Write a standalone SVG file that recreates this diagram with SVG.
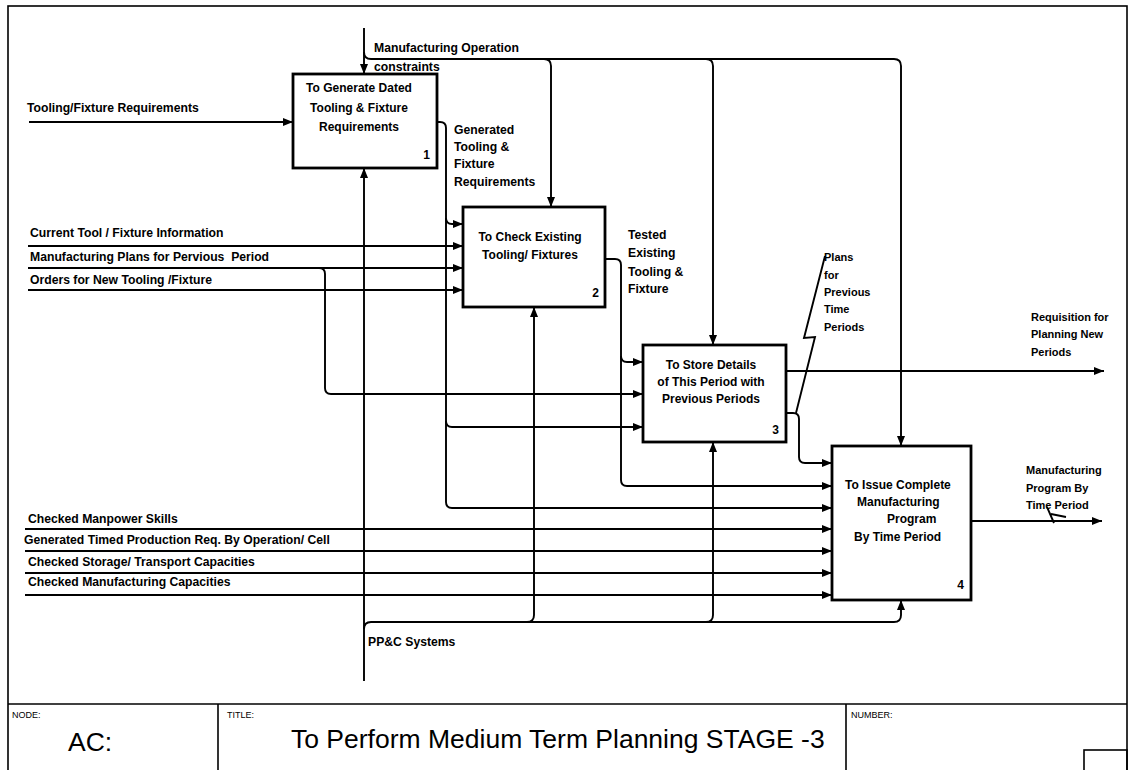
<svg xmlns="http://www.w3.org/2000/svg" width="1133" height="770" viewBox="0 0 1133 770">
  <defs>
    <marker id="ah" viewBox="0 0 10 8" refX="10" refY="4" markerWidth="10" markerHeight="8" markerUnits="userSpaceOnUse" orient="auto">
      <path d="M0,0 L10,4 L0,8 z" fill="#000"/>
    </marker>
    <style>
      .frame { fill: none; stroke: #000; stroke-width: 1.6; }
      .box { fill: #fff; stroke: #000; stroke-width: 2.8; }
      .line { fill: none; stroke: #000; stroke-width: 1.9; }
      .arr { marker-end: url(#ah); }
      .lbl { font-family: "Liberation Sans", Arial, sans-serif; font-weight: bold; font-size: 12.2px; fill: #000; }
      .sm { font-family: "Liberation Sans", Arial, sans-serif; font-weight: bold; font-size: 11px; fill: #000; }
      .bt { font-family: "Liberation Sans", Arial, sans-serif; font-weight: bold; font-size: 12px; fill: #000; }
      .num { font-family: "Liberation Sans", Arial, sans-serif; font-weight: bold; font-size: 12px; fill: #000; text-anchor: end; }
      .tb { font-family: "Liberation Sans", Arial, sans-serif; font-size: 9px; fill: #000; }
      .big { font-family: "Liberation Sans", Arial, sans-serif; font-size: 26.5px; fill: #000; }
    </style>
  </defs>

  <rect width="1133" height="770" fill="#fff"/>

  <!-- drawing frame and title block -->
  <g id="frame">
    <rect class="frame" x="8" y="6" width="1119" height="780"/>
    <line class="frame" x1="8" y1="704" x2="1127" y2="704"/>
    <line class="frame" x1="218" y1="704" x2="218" y2="770"/>
    <line class="frame" x1="846" y1="704" x2="846" y2="770"/>
    <rect class="frame" x="1084" y="750" width="43" height="30"/>
    <text class="tb" x="12" y="718">NODE:</text>
    <text class="big" x="68" y="751" font-size="29">AC:</text>
    <text class="tb" x="227" y="718">TITLE:</text>
    <text class="big" x="291" y="748">To Perform Medium Term Planning STAGE -3</text>
    <text class="tb" x="851" y="718">NUMBER:</text>
  </g>

  <!-- connectors -->
  <g id="connectors">
    <!-- control: Manufacturing Operation constraints -->
    <path class="line arr" d="M364,28 L364,74"/>
    <path class="line arr" d="M364,52 Q364,59 371,59 L894,59 Q901,59 901,66 L901,446"/>
    <path class="line arr" d="M544,59 Q551,59 551,66 L551,207"/>
    <path class="line arr" d="M706,59 Q713,59 713,66 L713,345"/>

    <!-- input to box 1 -->
    <path class="line arr" d="M29,122 L293,122"/>

    <!-- box 1 output: Generated Tooling & Fixture Requirements -->
    <path class="line arr" d="M437,122 L440,122 Q446,122 446,128 L446,502 Q446,508 452,508 L832,508"/>
    <path class="line arr" d="M446,218 Q446,224 452,224 L463,224"/>
    <path class="line arr" d="M446,421 Q446,427 452,427 L643,427"/>

    <!-- inputs to box 2 -->
    <path class="line arr" d="M28,246 L463,246"/>
    <path class="line arr" d="M28,268 L463,268"/>
    <path class="line arr" d="M28,290 L463,290"/>
    <path class="line arr" d="M319,268 Q325,268 325,274 L325,388 Q325,394 331,394 L643,394"/>

    <!-- box 2 output: Tested Existing Tooling & Fixture -->
    <path class="line arr" d="M605,259 L615,259 Q621,259 621,265 L621,480 Q621,486 627,486 L832,486"/>
    <path class="line arr" d="M621,356 Q621,362 627,362 L643,362"/>

    <!-- box 3 outputs -->
    <path class="line arr" d="M786,371 L1104,371"/>
    <path class="line arr" d="M786,413 L793,413 Q799,413 799,419 L799,457 Q799,463 805,463 L832,463"/>
    <path class="line" d="M796,413 L815,337 L804,338 L825,256"/>

    <!-- inputs to box 4 -->
    <path class="line arr" d="M25,529 L832,529"/>
    <path class="line arr" d="M25,551 L832,551"/>
    <path class="line arr" d="M25,573 L832,573"/>
    <path class="line arr" d="M25,595 L832,595"/>

    <!-- box 4 output: Manufacturing Program By Time Period -->
    <path class="line arr" d="M971,521 L1102,521"/>
    <path class="line" d="M1047,507 L1054,523 M1051,514 L1066,517"/>

    <!-- mechanism: PP&C Systems -->
    <path class="line arr" d="M364,681 L364,168"/>
    <path class="line arr" d="M364,629 Q364,622 371,622 L894,622 Q901,622 901,615 L901,600"/>
    <path class="line arr" d="M527,622 Q534,622 534,615 L534,307"/>
    <path class="line arr" d="M706,622 Q713,622 713,615 L713,442"/>
  </g>

  <!-- arrow labels -->
  <g id="labels">
    <text class="lbl" x="374" y="52">Manufacturing Operation</text>
    <text class="lbl" x="374" y="71">constraints</text>
    <text class="lbl" x="27" y="112">Tooling/Fixture Requirements</text>
    <text class="lbl" x="454" y="134">Generated</text>
    <text class="lbl" x="454" y="151">Tooling &amp;</text>
    <text class="lbl" x="454" y="168">Fixture</text>
    <text class="lbl" x="454" y="186">Requirements</text>
    <text class="lbl" x="30" y="237">Current Tool / Fixture Information</text>
    <text class="lbl" x="30" y="261" xml:space="preserve">Manufacturing Plans for Pervious  Period</text>
    <text class="lbl" x="30" y="284">Orders for New Tooling /Fixture</text>
    <text class="lbl" x="628" y="239">Tested</text>
    <text class="lbl" x="628" y="257">Existing</text>
    <text class="lbl" x="628" y="276">Tooling &amp;</text>
    <text class="lbl" x="628" y="293">Fixture</text>
    <text class="sm" x="824" y="261" font-size="11.5">Plans</text>
    <text class="sm" x="824" y="279" font-size="11.5">for</text>
    <text class="sm" x="824" y="296" font-size="11.5">Previous</text>
    <text class="sm" x="824" y="313" font-size="11.5">Time</text>
    <text class="sm" x="824" y="331" font-size="11.5">Periods</text>
    <text class="sm" x="1031" y="321">Requisition for</text>
    <text class="sm" x="1031" y="338">Planning New</text>
    <text class="sm" x="1031" y="356">Periods</text>
    <text class="sm" x="1026" y="474">Manufacturing</text>
    <text class="sm" x="1026" y="492">Program By</text>
    <text class="sm" x="1026" y="509">Time Period</text>
    <text class="lbl" x="28" y="523">Checked Manpower Skills</text>
    <text class="lbl" x="24" y="544">Generated Timed Production Req. By Operation/ Cell</text>
    <text class="lbl" x="28" y="566">Checked Storage/ Transport Capacities</text>
    <text class="lbl" x="28" y="586">Checked Manufacturing Capacities</text>
    <text class="lbl" x="368" y="646">PP&amp;C Systems</text>
  </g>

  <!-- activity boxes -->
  <g id="box1">
    <rect class="box" x="293" y="74" width="144" height="94"/>
    <text class="bt" x="359" y="92" text-anchor="middle">To Generate Dated</text>
    <text class="bt" x="359" y="112" text-anchor="middle">Tooling &amp; Fixture</text>
    <text class="bt" x="359" y="131" text-anchor="middle">Requirements</text>
    <text class="num" x="430" y="159">1</text>
  </g>

  <g id="box2">
    <rect class="box" x="463" y="207" width="142" height="100"/>
    <text class="bt" x="530" y="241" text-anchor="middle">To Check Existing</text>
    <text class="bt" x="530" y="259" text-anchor="middle">Tooling/ Fixtures</text>
    <text class="num" x="599" y="297">2</text>
  </g>

  <g id="box3">
    <rect class="box" x="643" y="345" width="143" height="97"/>
    <text class="bt" x="711" y="369" text-anchor="middle">To Store Details</text>
    <text class="bt" x="711" y="386" text-anchor="middle">of This Period with</text>
    <text class="bt" x="711" y="403" text-anchor="middle">Previous Periods</text>
    <text class="num" x="779" y="434">3</text>
  </g>

  <g id="box4">
    <rect class="box" x="832" y="446" width="139" height="154"/>
    <text class="bt" x="845" y="489">To Issue Complete</text>
    <text class="bt" x="857" y="506">Manufacturing</text>
    <text class="bt" x="887" y="523">Program</text>
    <text class="bt" x="854" y="541">By Time Period</text>
    <text class="num" x="964" y="589">4</text>
  </g>
</svg>
